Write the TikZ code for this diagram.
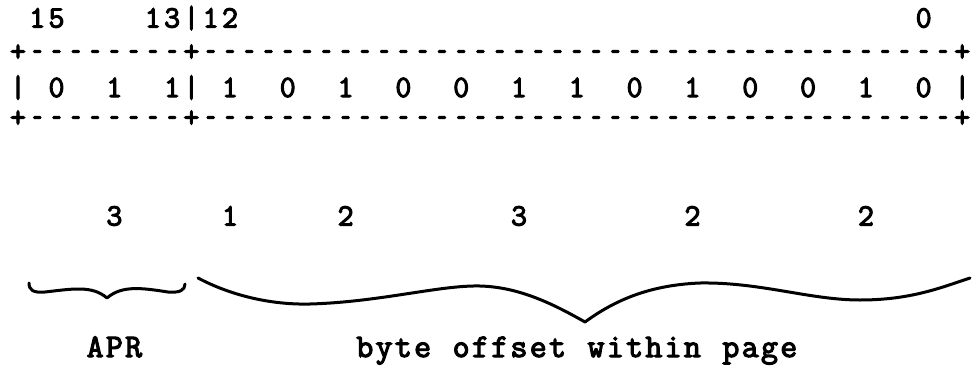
\documentclass[tikz,border=0pt]{standalone}
\usepackage{graphicx}
\usepackage{fontspec}
\newfontfamily\typer{Latin Modern Mono}[FakeBold=3.5]

% fixed typewriter pitch: every character sits in its own cell
\newlength\twpitch
\setlength\twpitch{19.27pt}
\def\twend{\twend}
\newcommand\tw[1]{\twstep#1\twend}
% typed hyphens come out short on this machine
\def\twglyph#1{\ifx-#1\scalebox{0.6}[1]{-}\else#1\fi}
\def\twstep#1{\ifx#1\twend\else\makebox[\twpitch][c]{\twglyph{#1}}\expandafter\twstep\fi}

\tikzset{
  typed/.style={inner sep=0pt, outer sep=0pt, font=\typer\fontsize{31}{31}\selectfont},
  label/.style={inner sep=0pt, outer sep=0pt, font=\typer\fontsize{33}{33}\selectfont},
  bracepen/.style={line width=3pt, line cap=round, line join=round}
}

\begin{document}
\begin{tikzpicture}[x=1pt, y=-1pt]
  \useasboundingbox (0,0) rectangle (977,367);

  % bit numbers above the word
  \node[typed, anchor=base west] (hdrL) at (8.37,27.5) {\tw{~15~~~~13|12}};
  \node[typed, anchor=base] (hdrR) at (923.7,27.5) {\tw{0}};

  % the 16-bit word
  \node[typed, anchor=base west] (topB) at (8.37,61)
    {\tw{+--------+---------------------------------------+}};
  \node[typed, anchor=base west] (bits) at (8.37,97)
    {\tw{|~0~~1~~1|~1~~0~~1~~0~~0~~1~~1~~0~~1~~0~~0~~1~~0~|}};
  \node[typed, anchor=base west] (botB) at (8.37,127)
    {\tw{+--------+---------------------------------------+}};

  % octal digits of the bit groups
  \node[typed, anchor=base] (o1) at (114.4,225.5) {3};
  \node[typed, anchor=base] (o2) at (230.0,225.5) {1};
  \node[typed, anchor=base] (o3) at (345.6,225.5) {2};
  \node[typed, anchor=base] (o4) at (519.0,225.5) {3};
  \node[typed, anchor=base] (o5) at (692.5,225.5) {2};
  \node[typed, anchor=base] (o6) at (865.9,225.5) {2};

  % braces under the fields
  \coordinate (aprL) at (29,283);
  \coordinate (aprT) at (107,298);
  \coordinate (aprR) at (185,284);
  \draw[bracepen] (aprL) .. controls (29,290) and (33,293) .. (45,292)
    .. controls (72,289) and (92,285) .. (aprT)
    .. controls (122,285) and (142,288) .. (168,292)
    .. controls (180,293) and (185,290) .. (aprR);

  \coordinate (offL) at (198,278);
  \coordinate (offT) at (585,322);
  \coordinate (offR) at (970,278);
  \draw[bracepen] (offL) .. controls (230,295) and (270,305) .. (310,304)
    .. controls (380,302) and (440,285) .. (480,286)
    .. controls (520,287) and (555,305) .. (offT)
    .. controls (615,300) and (650,285) .. (700,283)
    .. controls (760,282) and (810,300) .. (860,300)
    .. controls (910,300) and (940,288) .. (offR);

  % field names
  \node[label, anchor=base] (apr) at (114.4,357) {\tw{APR}};
  \node[label, anchor=base] (off) at (576.8,357) {\tw{byte~offset~within~page}};
\end{tikzpicture}
\end{document}
